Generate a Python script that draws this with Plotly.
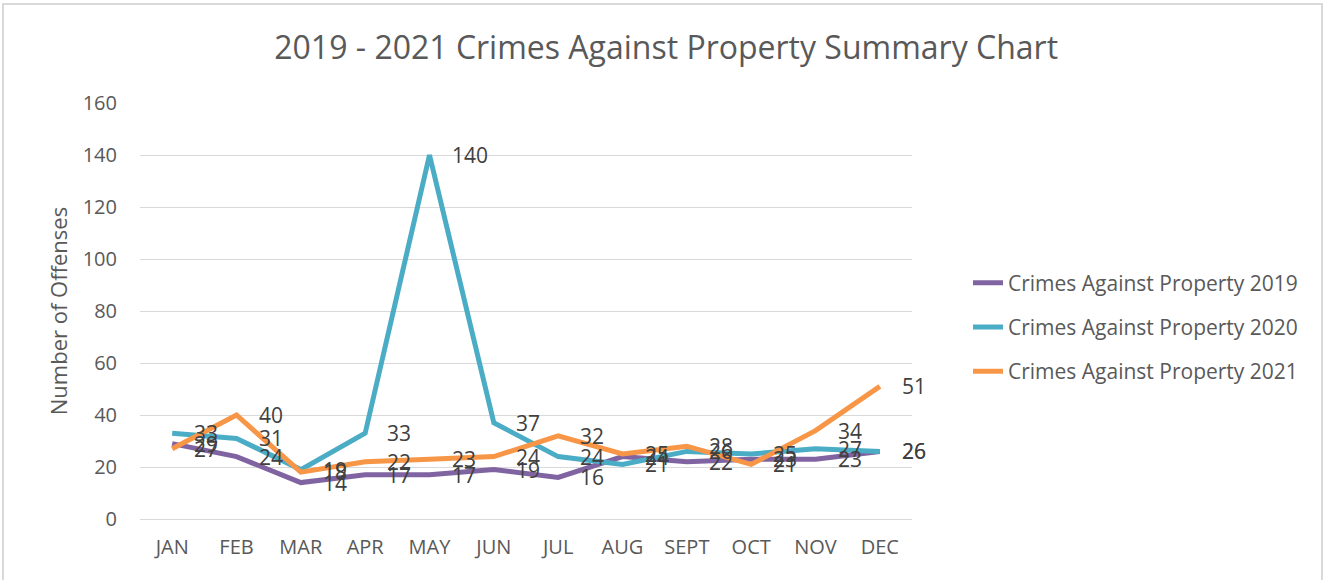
import plotly.graph_objects as go

months = ["JAN", "FEB", "MAR", "APR", "MAY", "JUN", "JUL", "AUG", "SEPT", "OCT", "NOV", "DEC"]
y2019 = [29, 24, 14, 17, 17, 19, 16, 24, 22, 23, 23, 26]
y2020 = [33, 31, 19, 33, 140, 37, 24, 21, 26, 25, 27, 26]
y2021 = [27, 40, 18, 22, 23, 24, 32, 25, 28, 21, 34, 51]
names = ["Crimes Against Property 2019", "Crimes Against Property 2020", "Crimes Against Property 2021"]
colors = ["#8064A2", "#4BACC6", "#F79646"]
series = [y2019, y2020, y2021]

FONT = "Open Sans, Lato, sans-serif"
TXT = "#595959"

fig = go.Figure()
for i, (name, ys, c) in enumerate(zip(names, series, colors)):
    fig.add_trace(go.Scatter(
        x=months, y=ys, name=name, mode="lines",
        line=dict(color=c, width=5), legendgroup=str(i),
    ))

annotations = []
for ys in series:
    for m, v in zip(months, ys):
        annotations.append(dict(
            x=m, y=v, xref="x", yref="y", text=str(v), showarrow=False,
            xanchor="left", yanchor="middle", xshift=20,
            font=dict(family=FONT, size=21, color="#404040"),
        ))

W0, H0 = 772, 416  # plot area px
fig.update_layout(
    width=1327, height=580,
    paper_bgcolor="white", plot_bgcolor="white",
    margin=dict(l=140, r=415, t=103, b=61),
    title=dict(text="2019 - 2021 Crimes Against Property Summary Chart",
               x=0.502, xanchor="center", y=1 - 48 / 580, yanchor="middle",
               font=dict(family=FONT, size=32, color=TXT)),
    font=dict(family=FONT, color=TXT),
    showlegend=True,
    legend=dict(x=(968 - 140) / W0, xanchor="left", y=(519 - 327) / H0, yanchor="middle",
                font=dict(family=FONT, size=21, color=TXT),
                tracegroupgap=14, traceorder="grouped", bgcolor="rgba(0,0,0,0)"),
    annotations=annotations,
    shapes=[dict(type="rect", xref="paper", yref="paper",
                 x0=(3 - 140) / W0, x1=(1322 - 140) / W0, y0=-1, y1=(519 - 4) / H0,
                 line=dict(color="#D9D9D9", width=2), layer="below")],
)
fig.update_xaxes(type="category", range=[-0.5, 11.5], showgrid=False,
                 showline=True, linecolor="#D9D9D9", linewidth=1,
                 ticks="", tickfont=dict(family=FONT, size=20, color=TXT), ticklabelstandoff=10)
fig.update_yaxes(range=[0, 160], dtick=20, showgrid=True, gridcolor="#D9D9D9", gridwidth=1,
                 zeroline=False, showline=False,
                 tickfont=dict(family=FONT, size=20, color=TXT), ticklabelstandoff=22,
                 title=dict(text="Number of Offenses", font=dict(family=FONT, size=22, color=TXT), standoff=8))

fig.write_html("out.html", config={"displayModeBar": False},
               post_script="document.body.style.margin='0';")
